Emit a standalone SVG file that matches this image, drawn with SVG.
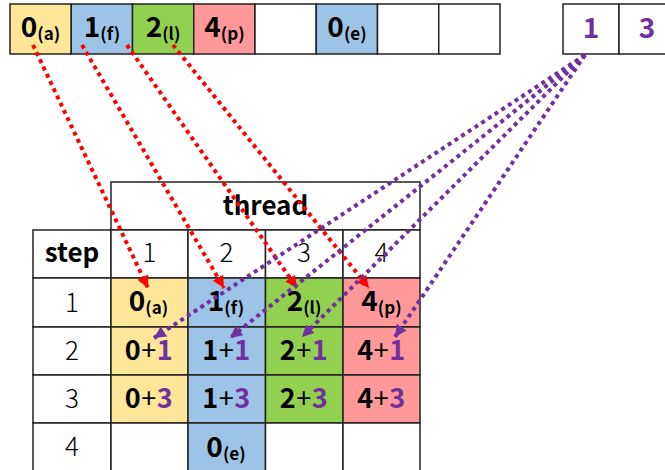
<svg xmlns="http://www.w3.org/2000/svg" width="665" height="470" viewBox="0 0 665 470">
<defs>
<style>
.cell{stroke:#222;stroke-width:1.5}
.y{fill:#FFE699}.b{fill:#9DC3E6}.g{fill:#92D050}.p{fill:#FF9999}.w{fill:#fff}
text{font-family:"Noto Sans CJK JP","Noto Sans",sans-serif;text-anchor:middle;fill:#000}
.big{font-size:28px;font-weight:bold}
.sub{font-size:17px;font-weight:bold}
.sum{font-size:27px;font-weight:bold;letter-spacing:0.5px}
.plus{font-weight:normal}
.pu{fill:#7030A0}
.lbl{font-size:26px;font-weight:300}
.hdr{font-size:26px;font-weight:bold}
.red{stroke:#FF0000;stroke-width:4;stroke-dasharray:4 4;fill:none;marker-end:url(#ar)}
.vio{stroke:#7030A0;stroke-width:4;stroke-dasharray:4 4;fill:none;marker-end:url(#av)}
</style>
<marker id="ar" markerUnits="userSpaceOnUse" markerWidth="14" markerHeight="14" refX="12" refY="6" orient="auto" viewBox="0 0 14 12">
<path d="M0,0 L12,6 L0,12 z" fill="#FF0000"/>
</marker>
<marker id="av" markerUnits="userSpaceOnUse" markerWidth="14" markerHeight="14" refX="12" refY="6" orient="auto" viewBox="0 0 14 12">
<path d="M0,0 L12,6 L0,12 z" fill="#7030A0"/>
</marker>
</defs>
<rect width="665" height="470" fill="#fff"/>

<g id="input-array">
<rect class="cell y" x="10" y="4" width="61.25" height="50"/>
<rect class="cell b" x="71.25" y="4" width="61.25" height="50"/>
<rect class="cell g" x="132.5" y="4" width="61.25" height="50"/>
<rect class="cell p" x="193.75" y="4" width="61.25" height="50"/>
<rect class="cell w" x="255" y="4" width="61.25" height="50"/>
<rect class="cell b" x="316.25" y="4" width="61.25" height="50"/>
<rect class="cell w" x="377.5" y="4" width="61.25" height="50"/>
<rect class="cell w" x="438.75" y="4" width="61.25" height="50"/>
<text class="big" x="40.5" y="37">0<tspan class="sub" dy="3">(a)</tspan></text>
<text class="big" x="102" y="37">1<tspan class="sub" dy="3">(f)</tspan></text>
<text class="big" x="163" y="37">2<tspan class="sub" dy="3">(l)</tspan></text>
<text class="big" x="224.5" y="37">4<tspan class="sub" dy="3">(p)</tspan></text>
<text class="big" x="347" y="37">0<tspan class="sub" dy="3">(e)</tspan></text>
</g>

<g id="offset-array">
<rect class="cell w" x="563" y="4" width="56" height="50"/>
<rect class="cell w" x="619" y="4" width="56" height="50"/>
<text class="big pu" x="591" y="38">1</text>
<text class="big pu" x="647" y="38">3</text>
</g>

<g id="table">
<g id="headers">
<rect class="cell w" x="111" y="182" width="309" height="48"/>
<text class="hdr" x="265.5" y="215">thread</text>
<rect class="cell w" x="33" y="230" width="78" height="48"/>
<text class="hdr" x="72" y="262">step</text>
<rect class="cell w" x="111" y="230" width="77" height="48"/>
<rect class="cell w" x="188" y="230" width="77.5" height="48"/>
<rect class="cell w" x="265.5" y="230" width="77.5" height="48"/>
<rect class="cell w" x="343" y="230" width="77" height="48"/>
<text class="lbl" x="149.5" y="262">1</text>
<text class="lbl" x="226.5" y="262">2</text>
<text class="lbl" x="304" y="262">3</text>
<text class="lbl" x="381.5" y="262">4</text>
<rect class="cell w" x="33" y="278" width="78" height="49"/>
<rect class="cell w" x="33" y="327" width="78" height="48"/>
<rect class="cell w" x="33" y="375" width="78" height="48"/>
<rect class="cell w" x="33" y="423" width="78" height="48"/>
<text class="lbl" x="72" y="312">1</text>
<text class="lbl" x="72" y="360">2</text>
<text class="lbl" x="72" y="408">3</text>
<text class="lbl" x="72" y="456">4</text>
</g>
<g id="step1">
<rect class="cell y" x="111" y="278" width="77" height="49"/>
<rect class="cell b" x="188" y="278" width="77.5" height="49"/>
<rect class="cell g" x="265.5" y="278" width="77.5" height="49"/>
<rect class="cell p" x="343" y="278" width="77" height="49"/>
<text class="big" x="148.5" y="311">0<tspan class="sub" dy="3">(a)</tspan></text>
<text class="big" x="226" y="311">1<tspan class="sub" dy="3">(f)</tspan></text>
<text class="big" x="304" y="311">2<tspan class="sub" dy="3">(l)</tspan></text>
<text class="big" x="381.5" y="311">4<tspan class="sub" dy="3">(p)</tspan></text>
</g>
<g id="step2">
<rect class="cell y" x="111" y="327" width="77" height="48"/>
<rect class="cell b" x="188" y="327" width="77.5" height="48"/>
<rect class="cell g" x="265.5" y="327" width="77.5" height="48"/>
<rect class="cell p" x="343" y="327" width="77" height="48"/>
<text class="sum" x="149" y="360">0<tspan class="plus">+</tspan><tspan class="pu">1</tspan></text>
<text class="sum" x="226.5" y="360">1<tspan class="plus">+</tspan><tspan class="pu">1</tspan></text>
<text class="sum" x="304" y="360">2<tspan class="plus">+</tspan><tspan class="pu">1</tspan></text>
<text class="sum" x="381.5" y="360">4<tspan class="plus">+</tspan><tspan class="pu">1</tspan></text>
</g>
<g id="step3">
<rect class="cell y" x="111" y="375" width="77" height="48"/>
<rect class="cell b" x="188" y="375" width="77.5" height="48"/>
<rect class="cell g" x="265.5" y="375" width="77.5" height="48"/>
<rect class="cell p" x="343" y="375" width="77" height="48"/>
<text class="sum" x="149" y="408">0<tspan class="plus">+</tspan><tspan class="pu">3</tspan></text>
<text class="sum" x="226.5" y="408">1<tspan class="plus">+</tspan><tspan class="pu">3</tspan></text>
<text class="sum" x="304" y="408">2<tspan class="plus">+</tspan><tspan class="pu">3</tspan></text>
<text class="sum" x="381.5" y="408">4<tspan class="plus">+</tspan><tspan class="pu">3</tspan></text>
</g>
<g id="step4">
<rect class="cell w" x="111" y="423" width="77" height="48"/>
<rect class="cell b" x="188" y="423" width="77.5" height="48"/>
<rect class="cell w" x="265.5" y="423" width="77.5" height="48"/>
<rect class="cell w" x="343" y="423" width="77" height="48"/>
<text class="big" x="226" y="457">0<tspan class="sub" dy="3">(e)</tspan></text>
</g>
</g>

<g id="connectors">
<line class="red" x1="33" y1="45" x2="148" y2="288"/>
<line class="red" x1="82" y1="45" x2="224" y2="288"/>
<line class="red" x1="127" y1="45" x2="297" y2="288"/>
<line class="red" x1="173" y1="45" x2="369" y2="288"/>
<line class="vio" x1="585" y1="55" x2="154" y2="338"/>
<line class="vio" x1="585" y1="55" x2="230" y2="338"/>
<line class="vio" x1="585" y1="55" x2="302" y2="337"/>
<line class="vio" x1="585" y1="55" x2="395" y2="337"/>
</g>
</svg>
